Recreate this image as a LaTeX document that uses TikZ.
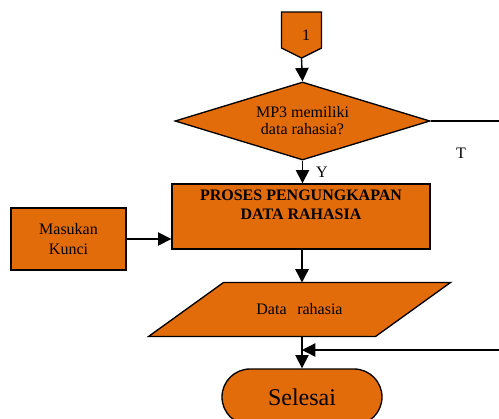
\documentclass[tikz,border=0pt]{standalone}
\usepackage{fontspec}
\setmainfont{Liberation Serif}
\usetikzlibrary{shapes.geometric,shapes.misc,arrows.meta,backgrounds}

\definecolor{oranye}{HTML}{E36C0A}
\tikzset{every picture/.style={line width=0.75pt}}
\tikzset{
  kotak/.style={draw, line width=1pt, fill=oranye, align=center, inner sep=0.75pt, font=\fontsize{12}{14.4}\selectfont},
  alir/.style={draw, line width=1pt, -{Triangle[length=10pt,width=10pt]}},
  garis/.style={draw, line width=1pt}
}

\begin{document}
\begin{tikzpicture}[x=0.75pt,y=0.75pt,yscale=-1,xscale=1]
\useasboundingbox (0,0) rectangle (499,418);

%Off-page connector
\node (sambung) [minimum width=29.25pt, minimum height=26.25pt, inner sep=0pt, anchor=north] at (301.5,12) {};
\coordinate (ujung) at (301.5,58);
\draw [line width=1pt, fill=oranye] (sambung.north west) -- (sambung.north east) -- (sambung.south east) -- (ujung) -- (sambung.south west) -- cycle ;
% Text Node
\node (satu) [font=\fontsize{12}{14.4}\selectfont, inner sep=0.75pt] at (306,35) {1};

%Decision
\node (cek) [kotak, diamond, aspect=3.27, minimum width=191.25pt, minimum height=58.5pt, inner sep=0pt, font=\fontsize{12}{12.75}\selectfont] at (302.5,121) {MP3 memiliki\\data rahasia?};

%Process
\node (proses) [kotak, rectangle, minimum width=193.5pt, minimum height=48.75pt] at (301,216.5) {\textbf{PROSES PENGUNGKAPAN}\\\textbf{DATA RAHASIA}\\[3pt]};

%Input key
\node (kunci) [kotak, rectangle, minimum width=86.25pt, minimum height=46.5pt] at (68.5,239) {Masukan\\Kunci};

%Output data (parallelogram drawn behind the text)
\node (data) [minimum width=113.25pt, minimum height=39.75pt, inner sep=0.75pt, font=\fontsize{12}{14.4}\selectfont] at (299.5,309.5) {Data\hspace{8pt}rahasia};
\begin{scope}[on background layer]
\draw [line width=1pt, fill=oranye] (data.north west) -- ([xshift=56.25pt]data.north east) -- (data.south east) -- ([xshift=-56.25pt]data.south west) -- cycle ;
\end{scope}

%Terminal
\node (selesai) [kotak, rounded rectangle, minimum width=121.5pt, minimum height=42pt, font=\fontsize{18}{21}\selectfont] at (302,397) {Selesai};

% Text Node
\node (labelT) [font=\fontsize{12}{14.4}\selectfont, inner sep=0.75pt] at (461,153) {T};
% Text Node
\node (labelY) [font=\fontsize{12}{14.4}\selectfont, inner sep=0.75pt] at (322,172) {Y};

\coordinate (kanan1) at (503,121);
\coordinate (gabung) at (302,350);

%Connectors
\draw [alir] (ujung) -- (cek.north);
\draw [alir] (cek.south) -- (cek.south |- proses.north);
\draw [alir] (kunci.east) -- (kunci.east -| proses.west);
\draw [alir] (proses.south -| gabung) -- (data.north -| gabung);
\draw [alir] (data.south -| gabung) -- (selesai.north -| gabung);
\draw [alir] (cek.east) -- (kanan1) |- (gabung);

\end{tikzpicture}
\end{document}
